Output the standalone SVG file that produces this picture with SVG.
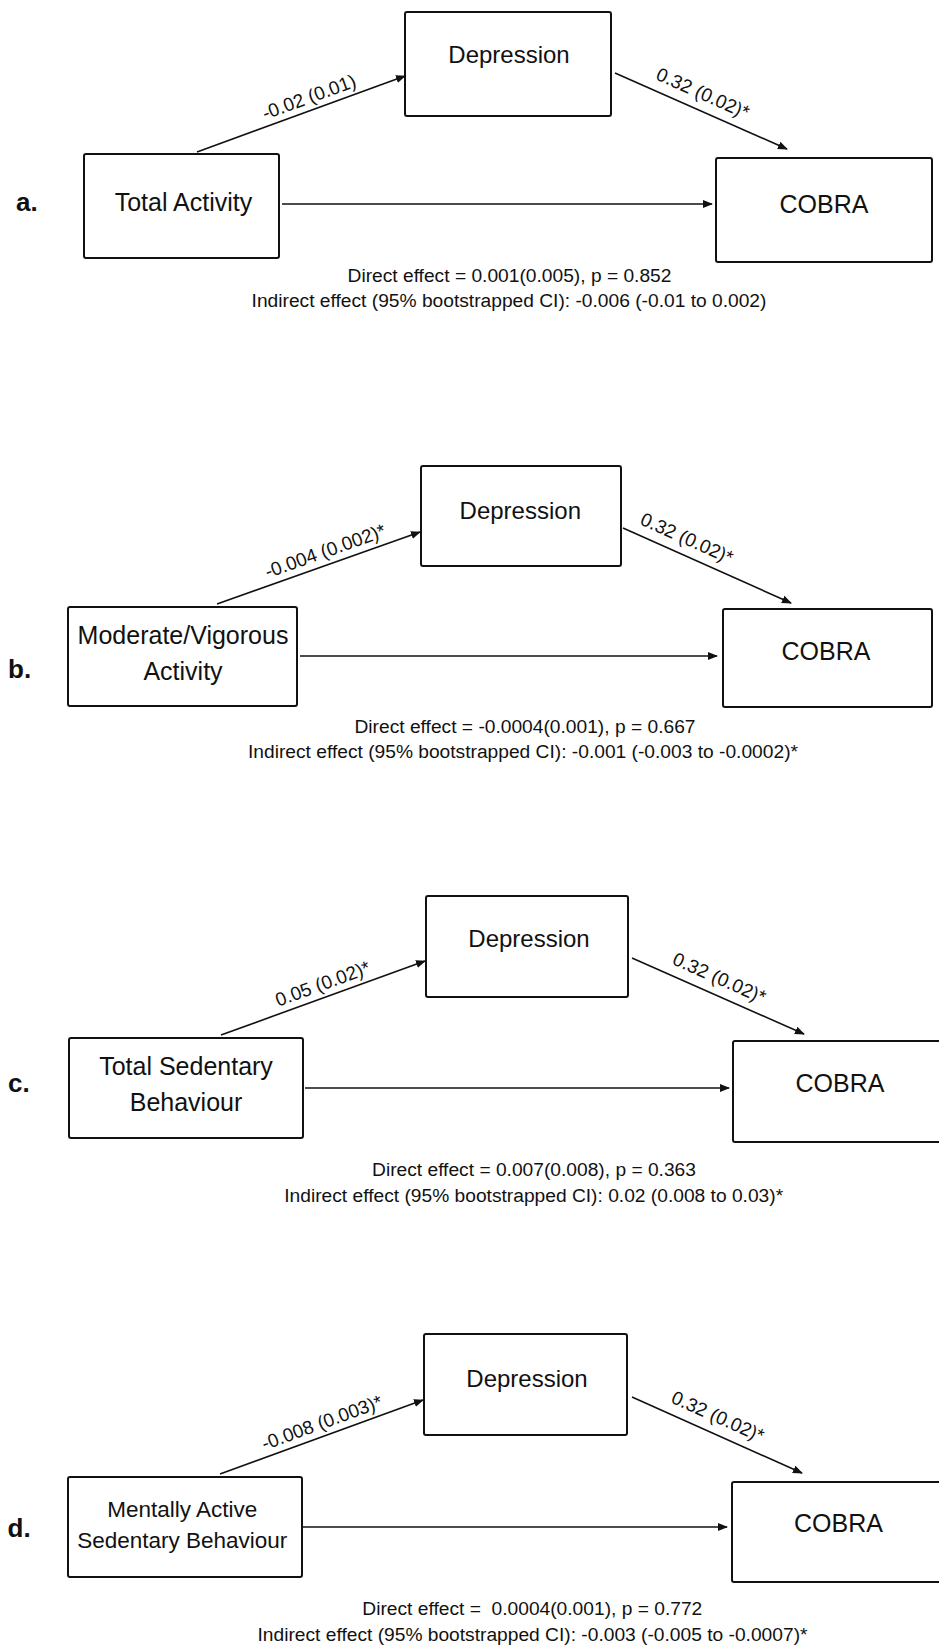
<svg xmlns="http://www.w3.org/2000/svg" width="939" height="1646" viewBox="0 0 939 1646">
<defs>
<marker id="ah" markerUnits="userSpaceOnUse" markerWidth="10" markerHeight="8" viewBox="0 0 10 8" refX="9" refY="4" orient="auto">
<path d="M0,0 L10,4 L0,8 z" fill="#111"/>
</marker>
<style>
.box{fill:#fff;stroke:#111;stroke-width:2}
.t{font-family:"Liberation Sans",Arial,sans-serif;fill:#111;text-anchor:middle}
.nl{font-size:25px}
.dep{font-size:24px}
.el{font-size:19px}
.fx{font-size:19.2px}
.pl{font-family:"Liberation Sans",Arial,sans-serif;fill:#111;font-weight:bold;font-size:26px}
.ln{stroke:#111;stroke-width:1.6;fill:none;marker-end:url(#ah)}
</style>
</defs>
<rect width="939" height="1646" fill="#fff"/>

<!-- Panel a -->
<text class="pl" x="16" y="211">a.</text>
<g id="a-total-activity"><rect class="box" x="84" y="154" width="195" height="104" rx="2"/><text class="t nl" x="183.5" y="211">Total Activity</text></g>
<g id="a-depression"><rect class="box" x="405" y="12" width="206" height="104" rx="2"/><text class="t dep" x="509" y="63">Depression</text></g>
<g id="a-cobra"><rect class="box" x="716" y="158" width="216" height="104" rx="2"/><text class="t nl" x="824" y="213">COBRA</text></g>
<g id="a-connectors">
<line class="ln" x1="197" y1="152" x2="405" y2="76"/>
<line class="ln" x1="615" y1="73" x2="787" y2="149"/>
<line class="ln" x1="282" y1="204" x2="712" y2="204"/>
<text class="t el" transform="translate(313.5,109.2) rotate(-20.1)" x="0" y="-6.5">-0.02 (0.01)</text>
<text class="t el" transform="translate(696,108.8) rotate(23.9)" x="0" y="-10.5">0.32 (0.02)*</text>
</g>
<text class="t fx" x="509.5" y="281.7">Direct effect = 0.001(0.005), p = 0.852</text>
<text class="t fx" x="509" y="307.3">Indirect effect (95% bootstrapped CI): -0.006 (-0.01 to 0.002)</text>

<!-- Panel b -->
<text class="pl" x="8" y="678">b.</text>
<g id="b-mv-activity"><rect class="box" x="68" y="607" width="229" height="99" rx="2"/><text class="t nl" x="183" y="644.3">Moderate/Vigorous</text><text class="t nl" x="183" y="680">Activity</text></g>
<g id="b-depression"><rect class="box" x="421" y="466" width="200" height="100" rx="2"/><text class="t dep" x="520.3" y="519.3">Depression</text></g>
<g id="b-cobra"><rect class="box" x="723" y="609" width="209" height="98" rx="2"/><text class="t nl" x="826" y="660">COBRA</text></g>
<g id="b-connectors">
<line class="ln" x1="217" y1="604" x2="420" y2="532"/>
<line class="ln" x1="623" y1="528" x2="791" y2="603"/>
<line class="ln" x1="300" y1="656" x2="717" y2="656"/>
<text class="t el" transform="translate(329.7,563.7) rotate(-19.6)" x="0" y="-7">-0.004 (0.002)*</text>
<text class="t el" transform="translate(680,553.8) rotate(24)" x="0" y="-10.5">0.32 (0.02)*</text>
</g>
<text class="t fx" x="525" y="732.7">Direct effect = -0.0004(0.001), p = 0.667</text>
<text class="t fx" x="523" y="758.3">Indirect effect (95% bootstrapped CI): -0.001 (-0.003 to -0.0002)*</text>

<!-- Panel c -->
<text class="pl" x="8" y="1091.7">c.</text>
<g id="c-total-sedentary"><rect class="box" x="69" y="1038" width="234" height="100" rx="2"/><text class="t nl" x="186" y="1075">Total Sedentary</text><text class="t nl" x="186" y="1110.7">Behaviour</text></g>
<g id="c-depression"><rect class="box" x="426" y="896" width="202" height="101" rx="2"/><text class="t dep" x="529" y="947.3">Depression</text></g>
<g id="c-cobra"><rect class="box" x="733" y="1041" width="215" height="101" rx="2"/><text class="t nl" x="840" y="1092.3">COBRA</text></g>
<g id="c-connectors">
<line class="ln" x1="221" y1="1035" x2="425" y2="961"/>
<line class="ln" x1="632" y1="958" x2="804" y2="1034"/>
<line class="ln" x1="305" y1="1088" x2="729" y2="1088"/>
<text class="t el" transform="translate(327.3,996.3) rotate(-20)" x="0" y="-7">0.05 (0.02)*</text>
<text class="t el" transform="translate(712.5,993.5) rotate(23.8)" x="0" y="-10.5">0.32 (0.02)*</text>
</g>
<text class="t fx" x="534" y="1176">Direct effect = 0.007(0.008), p = 0.363</text>
<text class="t fx" x="533.7" y="1201.7">Indirect effect (95% bootstrapped CI): 0.02 (0.008 to 0.03)*</text>

<!-- Panel d -->
<text class="pl" x="7.5" y="1537.3">d.</text>
<g id="d-mentally-active"><rect class="box" x="68" y="1477" width="234" height="100" rx="2"/><text class="t" style="font-size:22.5px" x="182.3" y="1517.3">Mentally Active</text><text class="t" style="font-size:22.5px" x="182.3" y="1548.3">Sedentary Behaviour</text></g>
<g id="d-depression"><rect class="box" x="424" y="1334" width="203" height="101" rx="2"/><text class="t dep" x="527" y="1386.7">Depression</text></g>
<g id="d-cobra"><rect class="box" x="732" y="1482" width="216" height="100" rx="2"/><text class="t nl" x="838.5" y="1531.7">COBRA</text></g>
<g id="d-connectors">
<line class="ln" x1="220" y1="1474" x2="423" y2="1400"/>
<line class="ln" x1="632" y1="1397" x2="802" y2="1473"/>
<line class="ln" x1="303" y1="1527" x2="727" y2="1527"/>
<text class="t el" transform="translate(326.5,1435.2) rotate(-20)" x="0" y="-7">-0.008 (0.003)*</text>
<text class="t el" transform="translate(711,1432) rotate(24)" x="0" y="-10.5">0.32 (0.02)*</text>
</g>
<text class="t fx" style="white-space:pre" x="532.3" y="1615">Direct effect =  0.0004(0.001), p = 0.772</text>
<text class="t fx" x="532.5" y="1640.7">Indirect effect (95% bootstrapped CI): -0.003 (-0.005 to -0.0007)*</text>
</svg>
